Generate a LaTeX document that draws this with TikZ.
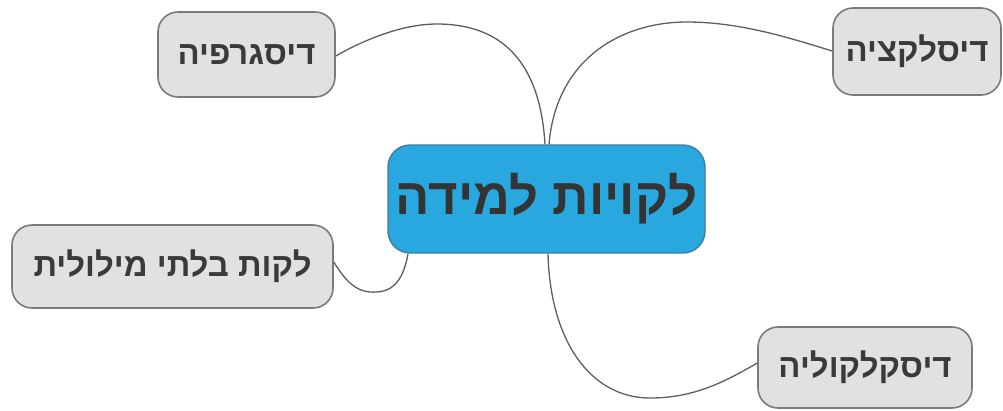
\documentclass[tikz,border=0pt]{standalone}
\usepackage{fontspec}
\newfontfamily\heb[Script=Hebrew]{Liberation Sans}
\TeXXeTstate=1
\usetikzlibrary{backgrounds}
\definecolor{cblue}{HTML}{29A8DF}
\definecolor{cblueborder}{HTML}{3F7E9C}
\definecolor{gfill}{HTML}{E1E1E1}
\definecolor{gborder}{HTML}{7A7A7A}
\definecolor{tdark}{HTML}{3A3A3A}
\definecolor{linec}{HTML}{5E5E5E}
\tikzset{
  topic/.style={draw=gborder, line width=1.6bp, fill=gfill, rounded corners=20bp,
    text=tdark, font=\heb\bfseries\fontsize{33}{36}\selectfont, inner sep=0pt, align=center},
  central/.style={draw=cblueborder, line width=1.4bp, fill=cblue, rounded corners=22bp,
    text=tdark!90!black, font=\heb\bfseries\fontsize{51}{56}\selectfont, inner sep=0pt, align=center},
  link/.style={draw=linec, line width=1.3bp}
}
\begin{document}
\begin{tikzpicture}[x=1bp,y=-1bp]
\useasboundingbox (0,0) rectangle (1003,410);
\node[central, minimum width=317bp, minimum height=108bp] (c) at (546.5,199) {\beginR לקויות למידה\endR};
\node[topic, minimum width=177bp, minimum height=85bp] (dg) at (246.5,54.5) {\beginR דיסגרפיה\endR};
\node[topic, minimum width=168bp, minimum height=87bp] (dl) at (917,51.5) {\beginR דיסלקציה\endR};
\node[topic, minimum width=321bp, minimum height=83bp] (nv) at (172.5,266.5) {\beginR לקות בלתי מילולית\endR};
\node[topic, minimum width=214bp, minimum height=81bp] (dc) at (865,367.5) {\beginR דיסקלקוליה\endR};
\begin{scope}[on background layer]
\coordinate (p1) at (437,24);
\coordinate (p2) at (687,22);
\coordinate (p3) at (370,292);
\coordinate (p4) at (650,398);
\draw[link] ([xshift=-1.5bp]c.north) .. controls (540,60) and (500,24) .. (p1)
  .. controls (400,24) and (360,42) .. ([yshift=-1.5bp]dg.east);
\draw[link] ([xshift=2.5bp]c.north) .. controls (556,60) and (620,22) .. (p2)
  .. controls (740,22) and (790,38) .. ([yshift=0.5bp]dl.west);
\draw[link] ([xshift=-138.5bp]c.south) .. controls (402,288) and (387,293) .. (p3)
  .. controls (355,291) and (345,280) .. ([yshift=4.5bp]nv.east);
\draw[link] ([xshift=1.5bp]c.south) .. controls (550,340) and (590,398) .. (p4)
  .. controls (690,398) and (720,385) .. ([yshift=4.5bp]dc.west);
\end{scope}
\end{tikzpicture}
\end{document}
